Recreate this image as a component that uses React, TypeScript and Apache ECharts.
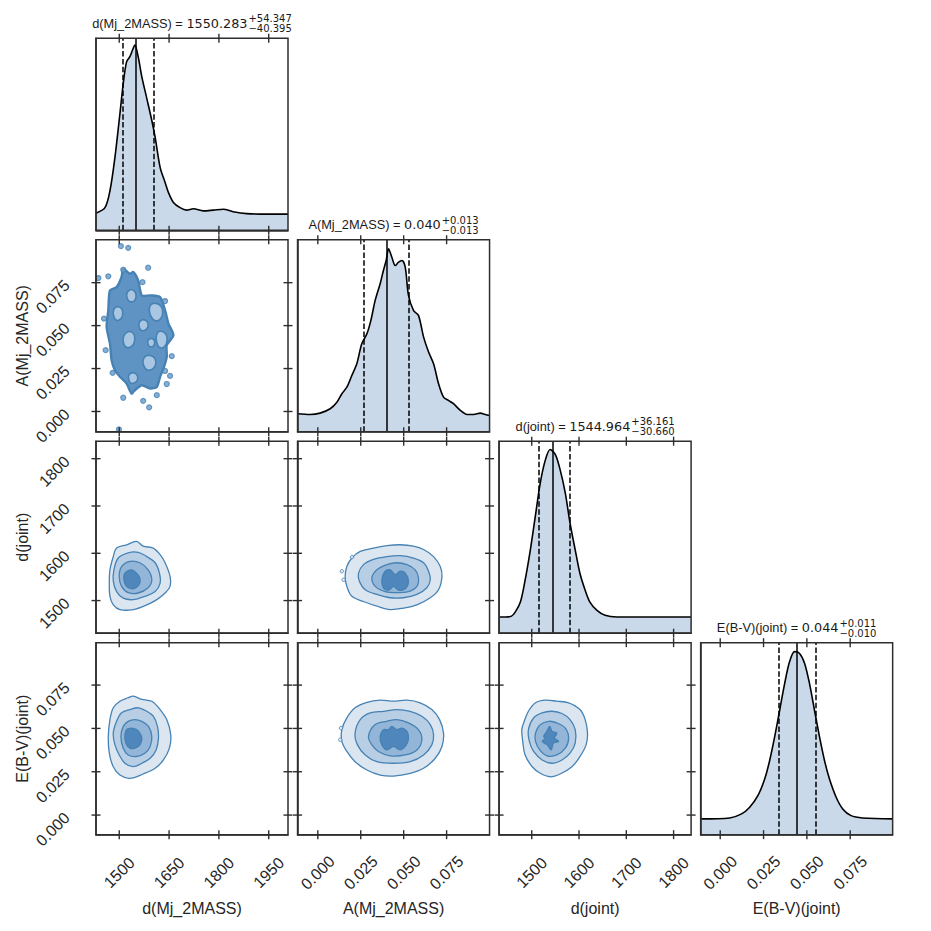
import React, { useEffect, useRef } from "react";
import * as echarts from "echarts";

// ---------- variables / axes ----------
const VAR_NAMES = ["d(Mj_2MASS)", "A(Mj_2MASS)", "d(joint)", "E(B-V)(joint)"];
const VAR_MIN = [1430, -0.0118, 1431, -0.0113];
const VAR_MAX = [2008, 0.1, 1837, 0.0995];
const TICKS = [
  [1500, 1650, 1800, 1950],
  [0, 0.025, 0.05, 0.075],
  [1500, 1600, 1700, 1800],
  [0, 0.025, 0.05, 0.075],
];
const TICK_LABELS = [
  ["1500", "1650", "1800", "1950"],
  ["0.000", "0.025", "0.050", "0.075"],
  ["1500", "1600", "1700", "1800"],
  ["0.000", "0.025", "0.050", "0.075"],
];

// ---------- titles / quantiles ----------
const TITLE_VALUES = ["1550.283", "0.040", "1544.964", "0.044"];
const TITLE_PLUS = ["54.347", "0.013", "36.161", "0.011"];
const TITLE_MINUS = ["40.395", "0.013", "30.660", "0.010"];
const MEDIANS = [1550.283, 0.04, 1544.964, 0.044];
const PLUS = [54.347, 0.013, 36.161, 0.011];
const MINUS = [40.395, 0.013, 30.66, 0.01];

// ---------- 1D densities (relative height) ----------
const KDE0_X = [1430, 1457, 1472, 1487, 1502, 1512, 1522, 1532, 1540, 1547, 1557, 1568, 1583, 1598, 1608, 1623, 1638, 1648, 1663, 1683, 1703, 1723, 1753, 1783, 1813, 1843, 1884, 1944, 2008];
const KDE0_Y = [0.089, 0.118, 0.206, 0.38, 0.607, 0.764, 0.877, 0.904, 0.939, 0.965, 0.904, 0.799, 0.686, 0.572, 0.485, 0.328, 0.249, 0.197, 0.145, 0.118, 0.105, 0.112, 0.101, 0.105, 0.11, 0.097, 0.087, 0.084, 0.084];
const KDE1_X = [-0.0118, -0.0045, 0.0013, 0.0072, 0.0111, 0.014, 0.0169, 0.0198, 0.0227, 0.0256, 0.0286, 0.0309, 0.0334, 0.0363, 0.0382, 0.0398, 0.0412, 0.0431, 0.0451, 0.047, 0.049, 0.0509, 0.0528, 0.0557, 0.0586, 0.0616, 0.0645, 0.0674, 0.0703, 0.0732, 0.0761, 0.079, 0.083, 0.0869, 0.0907, 0.0946, 0.0975, 0.1];
const KDE1_Y = [0.094, 0.09, 0.097, 0.12, 0.154, 0.198, 0.232, 0.293, 0.354, 0.458, 0.51, 0.58, 0.684, 0.771, 0.84, 0.892, 0.953, 0.909, 0.866, 0.883, 0.892, 0.857, 0.71, 0.632, 0.606, 0.493, 0.415, 0.354, 0.25, 0.18, 0.163, 0.146, 0.111, 0.09, 0.09, 0.097, 0.09, 0.085];
const KDE2_X = [1431, 1455, 1465, 1476, 1486, 1497, 1507.5, 1518, 1529, 1539, 1550, 1560, 1571, 1581, 1592, 1602, 1613, 1623, 1638, 1655, 1680, 1743, 1837];
const KDE2_Y = [0.084, 0.087, 0.11, 0.162, 0.276, 0.433, 0.607, 0.782, 0.904, 0.957, 0.93, 0.852, 0.73, 0.573, 0.433, 0.311, 0.224, 0.162, 0.119, 0.093, 0.084, 0.084, 0.084];
const KDE3_X = [-0.0113, 0.0055, 0.0123, 0.017, 0.0218, 0.0257, 0.0285, 0.0314, 0.0343, 0.0372, 0.04, 0.0429, 0.0458, 0.0487, 0.0515, 0.0544, 0.0573, 0.0602, 0.063, 0.0669, 0.0707, 0.0755, 0.0822, 0.0995];
const KDE3_Y = [0.082, 0.087, 0.108, 0.143, 0.204, 0.291, 0.385, 0.509, 0.648, 0.788, 0.9, 0.953, 0.944, 0.892, 0.788, 0.648, 0.509, 0.385, 0.291, 0.195, 0.134, 0.099, 0.087, 0.082];

// ---------- 2D contours (outer -> inner) ----------
const R1C0_BLOB = [[1472, 0.0705], [1492, 0.0724], [1507, 0.0783], [1512, 0.0831], [1532, 0.0802], [1542, 0.0812], [1557, 0.0763], [1568, 0.0676], [1593, 0.0676], [1623, 0.0666], [1638, 0.0589], [1648, 0.0512], [1663, 0.0444], [1643, 0.0386], [1643, 0.0318], [1633, 0.025], [1623, 0.0202], [1613, 0.0143], [1593, 0.0134], [1568, 0.0153], [1547, 0.0124], [1537, 0.0105], [1522, 0.0163], [1502, 0.0202], [1487, 0.024], [1477, 0.0298], [1472, 0.0396], [1462, 0.0492], [1467, 0.0589]];
const R1C0_PATCHES = [
  [[1592, 0.0612], [1614, 0.0628], [1630, 0.0592], [1622, 0.0535], [1600, 0.054]],
  [[1614, 0.0455], [1634, 0.0462], [1644, 0.0418], [1632, 0.0372], [1616, 0.0385]],
  [[1574, 0.031], [1596, 0.0325], [1610, 0.0288], [1598, 0.0245], [1578, 0.0252]],
  [[1516, 0.0448], [1538, 0.0462], [1546, 0.041], [1530, 0.0372], [1514, 0.0392]],
  [[1485, 0.0598], [1503, 0.0606], [1510, 0.0562], [1496, 0.053], [1484, 0.0552]],
  [[1530, 0.0215], [1548, 0.0222], [1555, 0.0186], [1540, 0.0163], [1530, 0.0178]],
  [[1526, 0.0698], [1543, 0.0705], [1550, 0.0662], [1536, 0.0638], [1524, 0.0658]],
  [[1562, 0.0525], [1580, 0.053], [1586, 0.0492], [1570, 0.047], [1560, 0.049]],
  [[1588, 0.0418], [1602, 0.0422], [1606, 0.0392], [1594, 0.0376], [1586, 0.0395]],
];
const R1C0_DOTS = [[1505, 0.0963], [1527, 0.0953], [1437, 0.0777], [1467, 0.0787], [1512, 0.0825], [1587, 0.0837], [1570, 0.0753], [1638, 0.0643], [1454, 0.0541], [1459, 0.0357], [1658, 0.0322], [1480, 0.0225], [1638, 0.0236], [1653, 0.0207], [1643, 0.016], [1512, 0.008], [1572, 0.0062], [1590, 0.0024], [1613, 0.0095], [1499, -0.0104]];

const R2C0 = [
  [[1492, 1611], [1522, 1618], [1552, 1625], [1572, 1615], [1602, 1611], [1623, 1597], [1638, 1580], [1653, 1551], [1653, 1530], [1638, 1516], [1613, 1502], [1583, 1491], [1542, 1481], [1502, 1481], [1482, 1491], [1472, 1509], [1470, 1537], [1472, 1565], [1482, 1593]],
  [[1497, 1590], [1527, 1601], [1557, 1602], [1583, 1593], [1608, 1580], [1621, 1558], [1623, 1537], [1608, 1519], [1577, 1509], [1542, 1502], [1512, 1505], [1492, 1519], [1482, 1541], [1484, 1565]],
  [[1507, 1572], [1532, 1583], [1562, 1580], [1587, 1565], [1598, 1544], [1587, 1527], [1557, 1516], [1527, 1517], [1507, 1530], [1500, 1551]],
  [[1517, 1558], [1537, 1565], [1552, 1558], [1562, 1548], [1560, 1534], [1542, 1525], [1522, 1530], [1514, 1544]],
];
const R2C1 = [
  [[0.0169, 1572], [0.0198, 1590], [0.0247, 1604], [0.0324, 1611], [0.0402, 1616], [0.048, 1618], [0.0557, 1615], [0.0616, 1608], [0.0674, 1593], [0.0713, 1572], [0.0723, 1551], [0.0703, 1523], [0.0655, 1506], [0.0577, 1491], [0.0499, 1484], [0.0421, 1481], [0.0344, 1488], [0.0266, 1498], [0.0198, 1509], [0.0169, 1530], [0.0159, 1551]],
  [[0.0237, 1558], [0.0266, 1576], [0.0324, 1587], [0.0402, 1593], [0.048, 1595], [0.0557, 1590], [0.0616, 1580], [0.0645, 1562], [0.0655, 1544], [0.0635, 1527], [0.0577, 1513], [0.0499, 1506], [0.0421, 1506], [0.0344, 1513], [0.0276, 1523], [0.0242, 1541]],
  [[0.0315, 1548], [0.0344, 1565], [0.0402, 1576], [0.046, 1580], [0.0519, 1576], [0.0567, 1565], [0.0586, 1548], [0.0577, 1530], [0.0528, 1519], [0.046, 1517], [0.0392, 1519], [0.0334, 1530]],
  [[0.0373, 1544], [0.0392, 1562], [0.0421, 1565], [0.0451, 1555], [0.048, 1562], [0.0509, 1558], [0.0528, 1541], [0.0509, 1525], [0.047, 1522], [0.0441, 1530], [0.0412, 1522], [0.0382, 1527]],
];
const R2C1_DOTS = [[0.014, 1562], [0.015, 1544], [0.0199, 1592]];
const R3C0 = [
  [[1482, 0.0619], [1502, 0.0657], [1527, 0.0677], [1542, 0.0686], [1568, 0.0667], [1598, 0.0657], [1623, 0.0609], [1643, 0.0551], [1655, 0.0464], [1651, 0.0386], [1633, 0.0318], [1608, 0.027], [1572, 0.0237], [1532, 0.0212], [1502, 0.0231], [1482, 0.0279], [1470, 0.0357], [1467, 0.0454], [1472, 0.0551]],
  [[1492, 0.0541], [1507, 0.059], [1532, 0.0609], [1557, 0.0619], [1583, 0.0599], [1603, 0.057], [1615, 0.0512], [1618, 0.0444], [1611, 0.0376], [1593, 0.0328], [1568, 0.0299], [1542, 0.0279], [1517, 0.0299], [1500, 0.0347], [1487, 0.0405], [1482, 0.0473]],
  [[1512, 0.0512], [1527, 0.0541], [1547, 0.0551], [1568, 0.0541], [1588, 0.0512], [1598, 0.0454], [1593, 0.0396], [1577, 0.0357], [1552, 0.0338], [1527, 0.0347], [1512, 0.0386], [1505, 0.0454]],
  [[1522, 0.0493], [1537, 0.0502], [1552, 0.0493], [1562, 0.0473], [1568, 0.0444], [1562, 0.0405], [1547, 0.0386], [1532, 0.0386], [1520, 0.0415], [1517, 0.0454]],
];
const R3C1 = [
  [[0.014, 0.0493], [0.0169, 0.0561], [0.0217, 0.0619], [0.0286, 0.0651], [0.0363, 0.0663], [0.0441, 0.0657], [0.0519, 0.0663], [0.0596, 0.0648], [0.0664, 0.0609], [0.0709, 0.0551], [0.0732, 0.0473], [0.0723, 0.0396], [0.0684, 0.0328], [0.0616, 0.027], [0.0538, 0.0241], [0.0441, 0.0225], [0.0363, 0.0231], [0.0286, 0.026], [0.0217, 0.0308], [0.0169, 0.0367], [0.014, 0.0425]],
  [[0.0217, 0.0473], [0.0247, 0.0551], [0.0305, 0.059], [0.0382, 0.0599], [0.046, 0.0609], [0.0538, 0.0599], [0.0606, 0.057], [0.0655, 0.0522], [0.0674, 0.0464], [0.0664, 0.0405], [0.0616, 0.0347], [0.0538, 0.0308], [0.0441, 0.0299], [0.0344, 0.0308], [0.0276, 0.0347], [0.0231, 0.0405]],
  [[0.0295, 0.0454], [0.0334, 0.0522], [0.0402, 0.0541], [0.046, 0.0551], [0.0528, 0.0532], [0.0586, 0.0493], [0.0606, 0.0435], [0.0577, 0.0376], [0.0509, 0.0347], [0.0421, 0.0342], [0.0353, 0.0367], [0.0315, 0.0405]],
  [[0.0363, 0.0454], [0.0382, 0.0493], [0.0412, 0.0493], [0.0431, 0.0512], [0.046, 0.0493], [0.049, 0.0502], [0.0519, 0.0483], [0.0528, 0.0444], [0.0515, 0.0405], [0.048, 0.0376], [0.0441, 0.0396], [0.0402, 0.0376], [0.0373, 0.0405]],
];
const R3C1_DOTS = [[0.0135, 0.0502], [0.0131, 0.0435]];
const R3C2 = [
  [[1483, 0.0532], [1493, 0.0599], [1508, 0.0648], [1529, 0.0663], [1553, 0.0657], [1578, 0.0648], [1602, 0.0609], [1613, 0.0551], [1618, 0.0473], [1615, 0.0405], [1602, 0.0338], [1585, 0.0279], [1560, 0.0237], [1539, 0.0221], [1518, 0.0241], [1501, 0.0279], [1486, 0.0347], [1481, 0.0425], [1479, 0.0493]],
  [[1493, 0.0493], [1504, 0.0561], [1522, 0.059], [1543, 0.0599], [1564, 0.0586], [1581, 0.0551], [1592, 0.0493], [1592, 0.0415], [1581, 0.0357], [1564, 0.0318], [1543, 0.0299], [1522, 0.0318], [1504, 0.0367], [1495, 0.0425]],
  [[1508, 0.0473], [1518, 0.0522], [1536, 0.0541], [1553, 0.0532], [1571, 0.0502], [1578, 0.0444], [1571, 0.0386], [1553, 0.0347], [1532, 0.0342], [1517, 0.0376], [1508, 0.0425]],
  [[1525, 0.0454], [1532, 0.0483], [1538, 0.0512], [1543, 0.0483], [1553, 0.0473], [1548, 0.0444], [1557, 0.0425], [1546, 0.0415], [1541, 0.0376], [1533, 0.0405], [1522, 0.0425], [1529, 0.0444]],
];

const KDE_X = [KDE0_X, KDE1_X, KDE2_X, KDE3_X];
const KDE_Y = [KDE0_Y, KDE1_Y, KDE2_Y, KDE3_Y];
const CONTOURS: Record<string, number[][][]> = { "2-0": R2C0, "2-1": R2C1, "3-0": R3C0, "3-1": R3C1, "3-2": R3C2 };
const STRAY_DOTS: Record<string, number[][]> = { "2-1": R2C1_DOTS, "3-1": R3C1_DOTS };

// ---------- styling ----------
const LEFT0 = 96, TOP0 = 38.3, STEP_X = 201.55, STEP_Y = 201.45, SIZE = 192;
const INK = "#262626";
const FRAME = "#2e2e2e";
const LEVEL_FILLS = ["#dbe6f1", "#b7cee5", "#93b5d7", "#4f86bb"];
const LINE_BLUE = "#4682b4";
const FONT = "Liberation Sans";
const TICK_HALF = 4.5;

function buildOption() {
  const grids: any[] = [];
  const xAxes: any[] = [];
  const yAxes: any[] = [];
  const series: any[] = [];
  const graphics: any[] = [];

  const fmt = (v: number) => (value: number) => {
    const k = TICKS[v].findIndex((t) => Math.abs(t - value) < 1e-9);
    return k >= 0 ? TICK_LABELS[v][k] : "";
  };
  const frameLine = { show: true, onZero: false, lineStyle: { color: FRAME, width: 1.5 } };

  for (let i = 0; i < 4; i++) {
    for (let j = 0; j <= i; j++) {
      const gi = grids.length;
      const diag = i === j;
      grids.push({ left: LEFT0 + STEP_X * j, top: TOP0 + STEP_Y * i, width: SIZE, height: SIZE, show: false });
      const xv = j;
      const yv = diag ? -1 : i;
      const xMin = VAR_MIN[xv], xMax = VAR_MAX[xv];
      const yMin = diag ? 0 : VAR_MIN[yv], yMax = diag ? 1 : VAR_MAX[yv];

      const xi = xAxes.length;
      xAxes.push({
        gridIndex: gi, type: "value", min: xMin, max: xMax, position: "bottom", z: 10,
        splitLine: { show: false }, axisLine: frameLine, axisTick: { show: false },
        axisLabel: i === 3
          ? { show: true, rotate: 45, align: "center", verticalAlign: "middle", margin: 38, fontSize: 16, fontFamily: FONT, color: INK, customValues: TICKS[xv], formatter: fmt(xv) }
          : { show: false },
        ...(i === 3 ? { name: VAR_NAMES[xv], nameLocation: "middle", nameGap: 74, nameMoveOverlap: false, nameTextStyle: { fontSize: 16, fontFamily: FONT, color: INK, verticalAlign: "middle" } } : {}),
      });
      const yi = yAxes.length;
      yAxes.push({
        gridIndex: gi, type: "value", min: yMin, max: yMax, position: "left", z: 10,
        splitLine: { show: false }, axisLine: frameLine, axisTick: { show: false },
        axisLabel: (!diag && j === 0)
          ? { show: true, rotate: 45, align: "right", verticalAlign: "middle", margin: 29, fontSize: 16, fontFamily: FONT, color: INK, customValues: TICKS[yv], formatter: fmt(yv) }
          : { show: false },
        ...((!diag && j === 0) ? { name: VAR_NAMES[yv], nameLocation: "middle", nameGap: 74, nameRotate: 90, nameMoveOverlap: false, nameTextStyle: { fontSize: 16, fontFamily: FONT, color: INK, verticalAlign: "middle" } } : {}),
      });

      if (diag) {
        const lo = MEDIANS[i] - MINUS[i];
        const hi = MEDIANS[i] + PLUS[i];
        series.push({
          type: "line", xAxisIndex: xi, yAxisIndex: yi, z: 3, silent: true,
          data: KDE_X[i].map((x, k) => [x, KDE_Y[i][k]]),
          showSymbol: false, smooth: 0.3,
          lineStyle: { color: "#000", width: 1.6 },
          areaStyle: { color: "#c9d9ea", opacity: 1 },
          markLine: {
            silent: true, symbol: "none", label: { show: false }, precision: 6,
            lineStyle: { color: "#000", width: 1.5 },
            data: [
              { xAxis: lo, lineStyle: { type: [5.5, 2.4], color: "#000", width: 1.5 } },
              { xAxis: MEDIANS[i], lineStyle: { type: "solid", color: "#000", width: 1.5 } },
              { xAxis: hi, lineStyle: { type: [5.5, 2.4], color: "#000", width: 1.5 } },
            ],
          },
        });
      } else {
        const poly = (pts: number[][], fill: string, lw: number, smooth = 0.35) => ({
          type: "custom", coordinateSystem: "cartesian2d", xAxisIndex: xi, yAxisIndex: yi, z: 3, silent: true, clip: true,
          data: pts, encode: { x: 0, y: 1 },
          renderItem: (params: any, api: any) => {
            if (params.dataIndex !== 0) return null;
            return {
              type: "polygon",
              shape: { points: pts.map((p) => api.coord(p)), smooth },
              style: { fill, stroke: LINE_BLUE, lineWidth: lw },
            };
          },
        });
        const key = `${i}-${j}`;
        if (CONTOURS[key]) {
          CONTOURS[key].forEach((pts, lvl) => series.push(poly(pts, LEVEL_FILLS[lvl], 1.3)));
          if (STRAY_DOTS[key]) {
            series.push({
              type: "scatter", xAxisIndex: xi, yAxisIndex: yi, z: 3, silent: true,
              data: STRAY_DOTS[key], symbolSize: 3.5,
              itemStyle: { color: "#dbe6f1", borderColor: LINE_BLUE, borderWidth: 1 },
            });
          }
        } else {
          series.push(poly(R1C0_BLOB, "#5f93c4", 2.4, 0.25));
          R1C0_PATCHES.forEach((pts) => series.push(poly(pts, "#a9c6e2", 1.6, 0.5)));
          series.push({
            type: "scatter", xAxisIndex: xi, yAxisIndex: yi, z: 3, silent: true,
            data: R1C0_DOTS, symbolSize: 5,
            itemStyle: { color: "#6a9bc9", borderColor: LINE_BLUE, borderWidth: 1.2 },
          });
        }
      }

      // frame + in/out ticks on all four sides, placed through the axes' scales
      const xTicks = TICKS[xv];
      const yTicks = diag ? [] : TICKS[yv];
      series.push({
        type: "custom", coordinateSystem: "cartesian2d", xAxisIndex: xi, yAxisIndex: yi, z: 20, silent: true, clip: false,
        data: [[xMin, yMin]], encode: { x: 0, y: 1 },
        renderItem: (params: any, api: any) => {
          const bl = api.coord([xMin, yMin]);
          const tr = api.coord([xMax, yMax]);
          const seg = (x1: number, y1: number, x2: number, y2: number) => ({
            type: "line", shape: { x1, y1, x2, y2 }, style: { stroke: FRAME, lineWidth: 1.4 },
          });
          const children: any[] = [
            { type: "rect", shape: { x: bl[0], y: tr[1], width: tr[0] - bl[0], height: bl[1] - tr[1] }, style: { fill: "none", stroke: FRAME, lineWidth: 1.5 } },
          ];
          xTicks.forEach((t) => {
            const px = api.coord([t, yMin])[0];
            children.push(seg(px, bl[1] - TICK_HALF, px, bl[1] + TICK_HALF));
            children.push(seg(px, tr[1] - TICK_HALF, px, tr[1] + TICK_HALF));
          });
          yTicks.forEach((t) => {
            const py = api.coord([xMin, t])[1];
            children.push(seg(bl[0] - TICK_HALF, py, bl[0] + TICK_HALF, py));
            children.push(seg(tr[0] - TICK_HALF, py, tr[0] + TICK_HALF, py));
          });
          return { type: "group", children };
        },
      });
    }
  }

  // titles above the diagonal panels
  const ctx = document.createElement("canvas").getContext("2d") as CanvasRenderingContext2D;
  const mw = (t: string, f: string) => { ctx.font = f; return ctx.measureText(t).width; };
  const MAIN = 12.8, SUB = 10;
  const fMainLab = `${MAIN}px "${FONT}"`;
  const fMainVal = `${MAIN}px "DejaVu Sans"`;
  const fSub = `${SUB}px "DejaVu Sans"`;
  for (let i = 0; i < 4; i++) {
    const cx = LEFT0 + STEP_X * i + SIZE / 2;
    const cy = TOP0 + STEP_Y * i - 15;
    const lab = VAR_NAMES[i] + " = ";
    const wLab = mw(lab, fMainLab);
    const wVal = mw(TITLE_VALUES[i], fMainVal);
    const sup = "+" + TITLE_PLUS[i];
    const sub = "\u2212" + TITLE_MINUS[i];
    const wSup = Math.max(mw(sup, fSub), mw(sub, fSub));
    const total = wLab + wVal + 1 + wSup;
    const left = cx - total / 2;
    graphics.push({ type: "text", x: left, y: cy, silent: true, style: { text: lab, font: fMainLab, fill: "#1a1a1a", align: "left", verticalAlign: "middle" } });
    graphics.push({ type: "text", x: left + wLab, y: cy, silent: true, style: { text: TITLE_VALUES[i], font: fMainVal, fill: "#1a1a1a", align: "left", verticalAlign: "middle" } });
    const sx = left + wLab + wVal + 1;
    graphics.push({ type: "text", x: sx, y: cy - 4.5, silent: true, style: { text: sup, font: fSub, fill: "#1a1a1a", align: "left", verticalAlign: "middle" } });
    graphics.push({ type: "text", x: sx, y: cy + 5.5, silent: true, style: { text: sub, font: fSub, fill: "#1a1a1a", align: "left", verticalAlign: "middle" } });
  }

  return {
    animation: false,
    backgroundColor: "#ffffff",
    grid: grids,
    xAxis: xAxes,
    yAxis: yAxes,
    series,
    graphic: graphics,
  };
}

export default function App() {
  const ref = useRef<HTMLDivElement>(null);
  useEffect(() => {
    if (!ref.current) return;
    const chart = echarts.init(ref.current, null, { renderer: "svg" });
    chart.setOption(buildOption() as any);
    return () => chart.dispose();
  }, []);
  return <div ref={ref} style={{ position: "fixed", left: 0, top: 0, width: 931, height: 931, background: "#fff" }} />;
}
